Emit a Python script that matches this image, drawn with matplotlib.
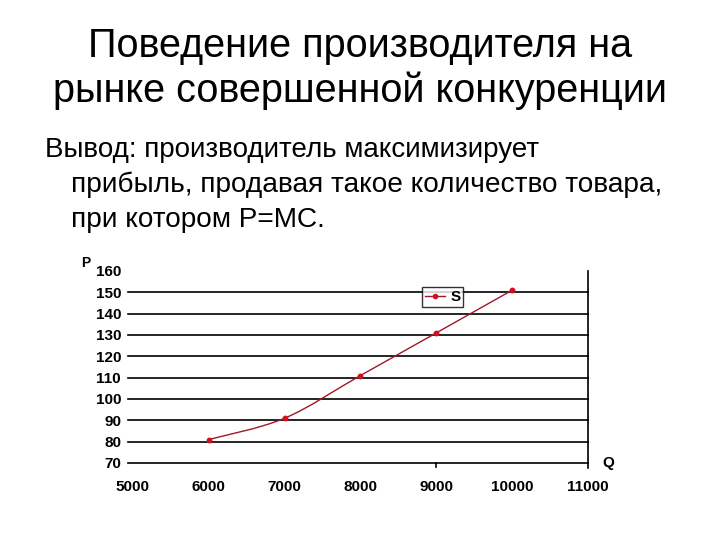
import matplotlib.pyplot as plt
import numpy as np
from matplotlib.path import Path
from matplotlib.patches import PathPatch
from matplotlib.lines import Line2D

plt.rcParams['font.family'] = ['Liberation Sans', 'DejaVu Sans']

# data
quantity = [6000, 7000, 8000, 9000, 10000]
price = [81, 91, 111, 131, 151]
x_ticks = [5000, 6000, 7000, 8000, 9000, 10000, 11000]
y_ticks = [70, 80, 90, 100, 110, 120, 130, 140, 150, 160]

title1 = "Поведение производителя на"
title2 = "рынке совершенной конкуренции"
line1 = "Вывод: производитель максимизирует"
line2 = "прибыль, продавая такое количество товара,"
line3 = "при котором P=MC."

red = "#d01020"
dark_red = "#a01828"

W, H = 720, 540
fig = plt.figure(figsize=(7.2, 5.4), dpi=100)
fig.text(0.5, 1 - 57 / H, title1, ha="center", va="baseline", fontsize=28.5)
fig.text(0.5, 1 - 102 / H, title2, ha="center", va="baseline", fontsize=28.5)
fig.text(45 / W, 1 - 157 / H, line1, ha="left", va="baseline", fontsize=20)
fig.text(71 / W, 1 - 192 / H, line2, ha="left", va="baseline", fontsize=20.2)
fig.text(71 / W, 1 - 227 / H, line3, ha="left", va="baseline", fontsize=20.2)

ax = fig.add_axes([128 / W, 1 - 463 / H, 460 / W, 192 / H])
ax.set_xlim(4935, 11000)
ax.set_ylim(70, 160)

for y in y_ticks[:-1]:
    ax.axhline(y, color="black", lw=1.2, zorder=1, clip_on=False)

ax.spines["top"].set_visible(False)
ax.spines["left"].set_visible(False)
ax.spines["bottom"].set_visible(False)
ax.spines["right"].set_linewidth(1.2)
ax.spines["right"].set_bounds(67.5, 160)

ax.set_xticks(x_ticks)
ax.set_xticklabels([str(v) for v in x_ticks], fontsize=11, fontweight="bold")
ax.set_yticks(y_ticks)
ax.set_yticklabels([str(v) for v in y_ticks], fontsize=11, fontweight="bold")
ax.tick_params(axis="y", length=0, pad=5)
ax.tick_params(axis="x", length=0, pad=12)
ax.plot([9000, 9000], [70, 68], color="black", lw=1.2, clip_on=False)

# smoothed curve (Excel style spline drawn as bezier segments)
xs = np.array(quantity, dtype=float)
ys = np.array(price, dtype=float)
verts = [(xs[0], ys[0])]
codes = [Path.MOVETO]
n = len(xs)
for i in range(n - 1):
    x0, y0 = (xs[i - 1], ys[i - 1]) if i > 0 else (xs[i], ys[i])
    x3, y3 = (xs[i + 2], ys[i + 2]) if i + 2 < n else (xs[i + 1], ys[i + 1])
    c1 = (xs[i] + (xs[i + 1] - x0) / 6, ys[i] + (ys[i + 1] - y0) / 6)
    c2 = (xs[i + 1] - (x3 - xs[i]) / 6, ys[i + 1] - (y3 - ys[i]) / 6)
    verts += [c1, c2, (xs[i + 1], ys[i + 1])]
    codes += [Path.CURVE4] * 3
ax.add_patch(PathPatch(Path(verts, codes), fill=False, edgecolor=dark_red,
                       lw=1.0, zorder=3))
ax.plot(quantity, price, "o", color=red, ms=3.2, zorder=4)

handle = Line2D([], [], color=dark_red, lw=1.0, marker="o", ms=3,
                markerfacecolor=red, markeredgecolor=red)
leg = ax.legend([handle], ["S"], loc="upper left",
                bbox_to_anchor=(294 / 460, 1 - 16 / 192), frameon=True,
                fancybox=False, handlelength=1.3, handletextpad=0.35,
                borderpad=0.2, borderaxespad=0.0,
                prop={"weight": "bold", "size": 11})
leg.get_frame().set_edgecolor("black")
leg.get_frame().set_linewidth(1.0)

fig.text(86 / W, 1 - 263 / H, "P", ha="center", va="center",
         fontsize=10, fontweight="bold")
fig.text(608 / W, 1 - 463 / H, "Q", ha="center", va="center",
         fontsize=11, fontweight="bold")

fig.savefig("out.png", dpi=100)
